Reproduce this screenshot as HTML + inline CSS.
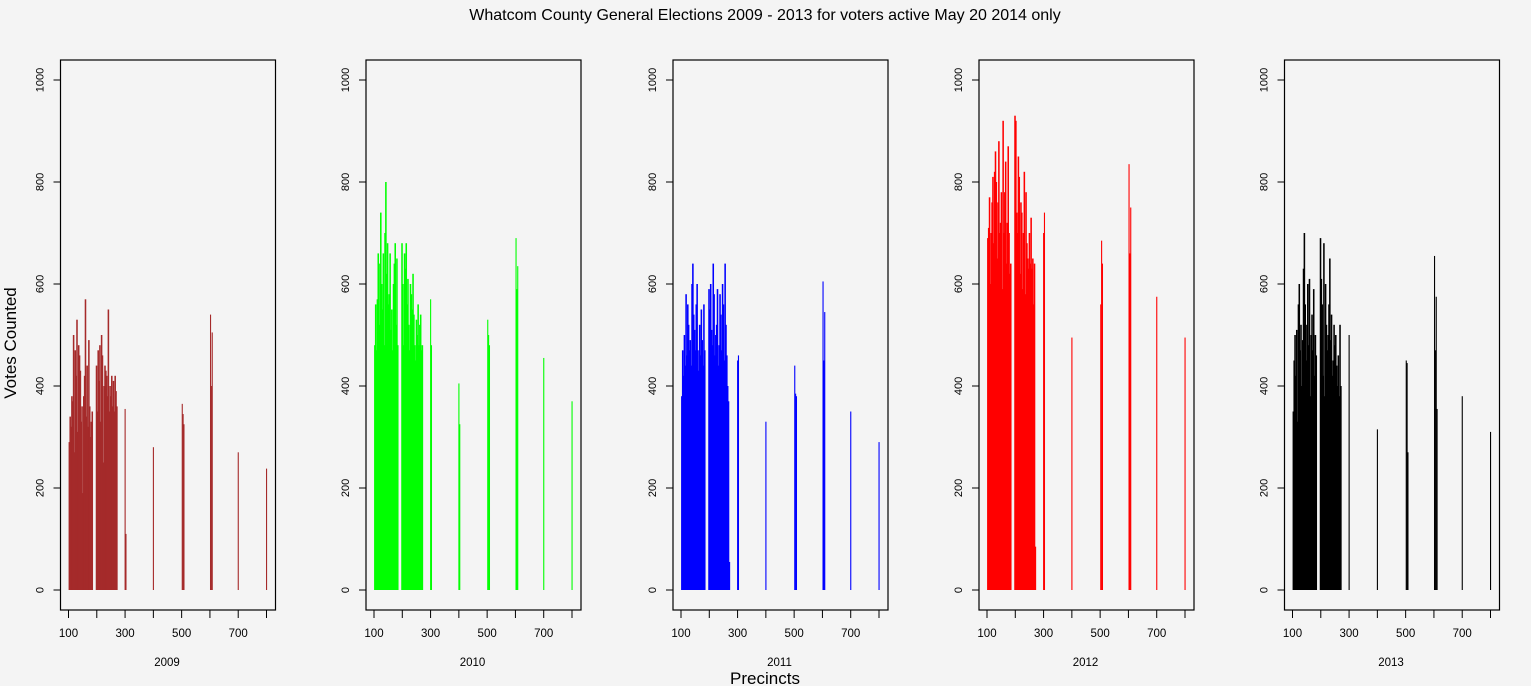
<!DOCTYPE html>
<html><head><meta charset="utf-8"><style>
html,body{margin:0;padding:0;background:#f4f4f4;}
svg{display:block;font-family:"Liberation Sans",sans-serif;}
</style></head><body>
<svg id="chart" width="1531" height="686" xmlns="http://www.w3.org/2000/svg">
<rect width="1531" height="686" fill="#f4f4f4"/>
<text x="765" y="20" text-anchor="middle" font-size="16" fill="#000">Whatcom County General Elections 2009 - 2013 for voters active May 20 2014 only</text>
<text transform="translate(16,343) rotate(-90)" text-anchor="middle" font-size="17" fill="#000">Votes Counted</text>
<text x="765" y="684" text-anchor="middle" font-size="17" fill="#000">Precincts</text>
</svg>
<script>
const groupA = [101,104,107,110,113,116,119,122,125,128,131,134,137,140,143,146,149,152,155,158,161,164,167,170,173,176,179,182];
const groupB = [197,200,203,206,209,212,215,218,221,224,227,230,233,236,239,242,245,248,251,254,257,260,263,266,269];
const singles = [300,303,400,403,502,505,508,602,605,608,611,700,800];
const precincts = groupA.concat(groupB, singles);
const years = ["2009","2010","2011","2012","2013"];
const colors = ["#a52a2a","#00ff00","#0000ff","#ff0000","#000000"];
const yTicks = [0,200,400,600,800,1000];
const xTicks = [100,200,300,400,500,600,700,800];
const xTickLabels = ["100","","300","","500","","700",""];
const v2009 = [290,340,320,380,370,500,270,470,420,530,310,480,460,430,330,360,190,380,420,570,340,440,320,490,360,300,330,350,
 440,350,470,410,480,330,500,460,250,400,440,430,420,380,550,350,400,380,420,360,410,350,420,390,360,
 355,110,280,0,365,345,325,540,400,505,0,270,238];
const v2010 = [480,560,470,570,660,520,640,740,600,550,660,480,700,800,620,680,560,580,660,510,550,470,600,640,680,520,650,480,
 680,600,480,660,630,680,560,610,520,470,600,580,550,620,540,480,450,530,500,560,480,520,540,470,480,
 570,480,405,325,530,500,480,690,590,635,0,455,370];
const v2011 = [380,470,420,500,440,580,460,560,520,470,490,440,600,640,540,510,470,560,600,470,430,520,460,550,490,440,560,470,
 590,550,600,510,480,640,580,460,500,520,590,440,480,580,540,470,600,560,450,640,520,460,400,370,55,
 450,460,330,0,440,385,380,605,450,545,0,350,290];
const v2012 = [690,710,770,600,700,760,810,680,820,860,800,650,760,880,700,720,780,590,920,700,780,840,640,720,870,700,620,640,
 930,920,740,700,850,810,620,760,740,590,700,820,580,780,680,650,630,700,640,730,630,650,560,640,85,
 700,740,495,0,560,685,640,835,660,750,0,575,495];
const v2013 = [350,450,500,420,510,330,560,600,470,520,400,490,630,700,560,450,520,600,480,610,380,500,540,470,590,420,500,460,
 690,610,560,420,680,380,600,520,470,500,560,650,490,540,420,450,520,480,500,440,400,460,380,520,400,
 500,0,315,0,450,445,270,655,470,575,355,380,310];
const series = [v2009,v2010,v2011,v2012,v2013];

const NS="http://www.w3.org/2000/svg";
const svg=document.getElementById('chart');
const panelLeft=[60.5,366,673,979,1284.5];
const boxW=215, boxTop=60, boxBot=610;
function yScale(v){return 590 - v*0.51;}
function mk(tag,attrs,parent){const e=document.createElementNS(NS,tag);for(const k in attrs)e.setAttribute(k,attrs[k]);(parent||svg).appendChild(e);return e;}

years.forEach((yr,i)=>{
  const L=panelLeft[i];
  const kx=(206-8)/700;
  const xScale=p=>L+8+(p-100)*kx;
  const g=mk('g',{});
  
  
  const vals=series[i];
  precincts.forEach((p,j)=>{
    const v=vals[j]; if(!v) return;
    const isSingle=p>=300;
    const w=isSingle?1.1:3*kx+0.7;
    const r=mk('rect',{x:(xScale(p)-(isSingle?0.5:0.2)).toFixed(2),y:yScale(v).toFixed(2),width:w.toFixed(2),height:(yScale(0)-yScale(v)).toFixed(2),fill:colors[i]},g);
    
    
  });
  const box=mk('rect',{x:L,y:boxTop,width:boxW,height:boxBot-boxTop,fill:'none',stroke:'#000','stroke-width':1.2},g);
  
  
  yTicks.forEach(t=>{
    const y=yScale(t);
    mk('line',{x1:L-7,x2:L,y1:y,y2:y,stroke:'#000'},g);
    const tx=mk('text',{transform:`translate(${L-17},${y}) rotate(-90)`,'text-anchor':'middle','font-size':11,fill:'#000'},g);
    tx.textContent=t;
    
    
  });
  xTicks.forEach((t,k)=>{
    const x=xScale(t);
    mk('line',{x1:x,x2:x,y1:boxBot,y2:boxBot+8,stroke:'#000'},g);
    if(xTickLabels[k]){
      const tx=mk('text',{x:x,y:637,'text-anchor':'middle','font-size':11.5,fill:'#000'},g);
      tx.textContent=xTickLabels[k];
      
      
    }
  });
  const yl=mk('text',{x:L+boxW/2-1,y:666,'text-anchor':'middle','font-size':11.5,fill:'#000'},g);
  yl.textContent=yr;
  
  
});
</script>
</body></html>
